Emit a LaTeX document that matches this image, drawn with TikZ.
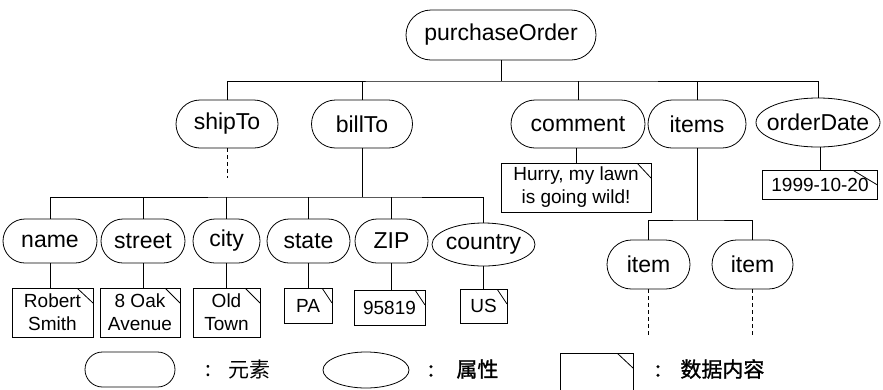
\documentclass[tikz,border=0pt]{standalone}
\usepackage{fontspec}
\setmainfont{Liberation Sans}
\newfontfamily\cjk{Noto Sans CJK SC}
\newfontfamily\cjkb{Noto Sans CJK SC}[FakeBold=1.2]
\usetikzlibrary{shapes.misc,shapes.geometric}
\begin{document}
\begin{tikzpicture}[x=1pt,y=-1pt,line width=0.8pt,
  elem/.style={draw,rounded rectangle,inner sep=0pt,
    minimum height=48pt,font=\fontsize{23}{26}\selectfont},
  attr/.style={draw,ellipse,inner sep=0pt,minimum height=48pt,font=\fontsize{23}{26}\selectfont},
  datab/.style={draw,rectangle,inner sep=0pt,align=center,font=\fontsize{19}{23}\selectfont,
    path picture={\draw[line width=0.8pt] ([xshift=-#1]path picture bounding box.north east) -- ([yshift=-15pt]path picture bounding box.north east);}},
  datab/.default=15pt,
  dashline/.style={dashed,dash pattern=on 4pt off 3pt},
  lab/.style={inner sep=0pt,font=\cjk\fontsize{21}{24}\selectfont},
  labb/.style={inner sep=0pt,font=\cjkb\fontsize{21}{24}\selectfont}]
\useasboundingbox (0,0) rectangle (883,389);
% level 1
\node[elem,minimum width=190pt,minimum height=50pt] (po) at (501,35) {purchaseOrder};
% level 2
\node[elem,minimum width=102pt] (shipTo) at (227,124) {shipTo};
\node[elem,minimum width=101pt] (billTo) at (362,124) {billTo};
\node[elem,minimum width=134pt] (comment) at (578,124) {comment};
\node[elem,minimum width=98pt] (items) at (697,124) {items};
\node[attr,minimum width=124pt,minimum height=49pt] (od) at (818,122.5) {\makebox[0pt]{orderDate}};
\node[datab=14pt,minimum width=150pt,minimum height=49pt] (commentD) at (576,187.5) {Hurry, my lawn\\is going wild!};
\node[datab=25pt,minimum width=115pt,minimum height=29pt] (odD) at (820,184.5) {1999-10-20};
% level 3
\node[elem,minimum width=94pt,minimum height=44pt] (name) at (50,241) {name};
\node[elem,minimum width=84pt,minimum height=44pt] (street) at (143,241) {street};
\node[elem,minimum width=67pt,minimum height=44pt] (city) at (226.5,241) {city};
\node[elem,minimum width=83pt,minimum height=44pt] (state) at (308.5,241) {state};
\node[elem,minimum width=73pt,minimum height=44pt] (zip) at (391.5,241) {ZIP};
\node[attr,minimum width=103pt,minimum height=43pt] (country) at (483.5,244.5) {\makebox[0pt]{country}};
\node[datab=16pt,minimum width=81pt,minimum height=49pt] (nameD) at (52.5,312.5) {Robert\\Smith};
\node[datab,minimum width=80pt,minimum height=49pt] (streetD) at (140,312.5) {8 Oak\\Avenue};
\node[datab,minimum width=67pt,minimum height=49pt] (cityD) at (226.5,312.5) {Old\\Town};
\node[datab=10pt,minimum width=48pt,minimum height=35pt] (paD) at (308,305.5) {PA};
\node[datab=10pt,minimum width=71pt,minimum height=35pt] (zipD) at (389.5,307.5) {95819};
\node[datab=10pt,minimum width=47pt,minimum height=34pt] (usD) at (483.5,306) {US};
\node[elem,minimum width=83pt,minimum height=49pt] (item1) at (648.5,264.5) {item};
\node[elem,minimum width=81pt,minimum height=49pt] (item2) at (752.5,264.5) {item};
% connectors
\coordinate (bar1) at (501,81);
\draw (po.south) -- (bar1);
\draw (shipTo.north) |- (bar1) -| (od.north);
\draw (billTo.north) -- (billTo.north |- bar1);
\draw (comment.north) -- (comment.north |- bar1);
\draw (items.north) -- (items.north |- bar1);
\coordinate (shipEnd) at (227,178);
\draw[dashline] (shipTo.south) -- (shipEnd);
\draw (commentD.north) -- (commentD.north |- comment.south);
\draw (odD.north) -- (odD.north |- od.south);
\coordinate (bar2) at (362,197);
\draw (billTo.south) -- (bar2);
\draw (name.north) |- (bar2) -| (country.north);
\draw (street.north) -- (street.north |- bar2);
\draw (city.north) -- (city.north |- bar2);
\draw (state.north) -- (state.north |- bar2);
\draw (zip.north) -- (zip.north |- bar2);
\draw (name.south) -- (name.south |- nameD.north);
\draw (street.south) -- (street.south |- streetD.north);
\draw (city.south) -- (city.south |- cityD.north);
\draw (state.south) -- (state.south |- paD.north);
\draw (zip.south) -- (zip.south |- zipD.north);
\draw (country.south) -- (country.south |- usD.north);
\coordinate (bar3) at (697,220);
\draw (items.south) -- (bar3);
\draw (item1.north) |- (bar3) -| (item2.north);
\coordinate (item1End) at (648.5,335);
\coordinate (item2End) at (752.5,335);
\draw[dashline] (item1.south) -- (item1End);
\draw[dashline] (item2.south) -- (item2End);
% legend
\node[elem,minimum width=90pt,minimum height=35pt] (legE) at (130,369.5) {};
\node[attr,minimum width=86pt,minimum height=36pt] (legA) at (366,370) {};
\node[datab=16pt,minimum width=73pt,minimum height=40pt] (legD) at (596.5,373) {};
\node[lab] (c1) at (208,371) {:};
\node[lab,anchor=west] (t1) at (228,369) {元素};
\node[labb] (c2) at (431,371) {:};
\node[labb,anchor=west] (t2) at (456,369) {属性};
\node[labb] (c3) at (658,371) {:};
\node[labb,anchor=west] (t3) at (680,369) {数据内容};
\end{tikzpicture}
\end{document}
